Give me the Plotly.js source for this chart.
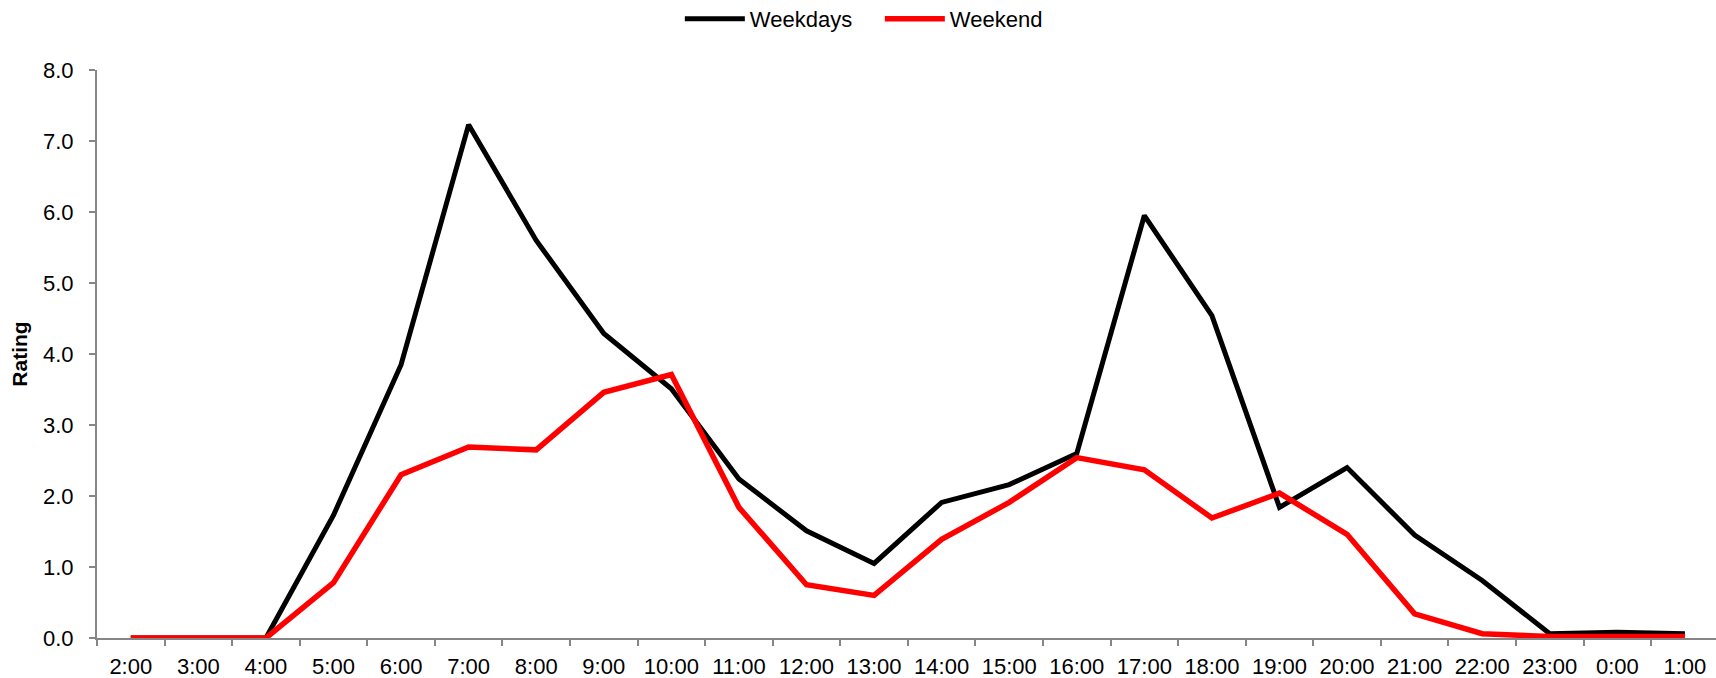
<!DOCTYPE html>
<html>
<head>
<meta charset="utf-8">
<script src="https://cdn.plot.ly/plotly-3.0.1.min.js"></script>
<style>html,body{margin:0;padding:0;background:#fff;}#chart{width:1716px;height:678px;}</style>
</head>
<body>
<div id="chart"></div>
<script>
const hours = ["2:00","3:00","4:00","5:00","6:00","7:00","8:00","9:00","10:00","11:00","12:00","13:00",
  "14:00","15:00","16:00","17:00","18:00","19:00","20:00","21:00","22:00","23:00","0:00","1:00"];
const weekdays = [0,0,0,1.73,3.85,7.23,5.60,4.29,3.51,2.24,1.51,1.05,
  1.91,2.16,2.60,5.95,4.54,1.84,2.40,1.45,0.81,0.06,0.08,0.06];
const weekend = [0,0,0,0.78,2.30,2.69,2.65,3.46,3.71,1.84,0.75,0.60,
  1.39,1.91,2.54,2.37,1.69,2.04,1.46,0.34,0.06,0.02,0.02,0.02];
const yTicks = [0,1,2,3,4,5,6,7,8];

const traces = [
  {x: hours, y: weekdays, name: "Weekdays", type: "scatter", mode: "lines",
   line: {color: "#000000", width: 5}},
  {x: hours, y: weekend, name: "Weekend", type: "scatter", mode: "lines",
   line: {color: "#ff0000", width: 5.5}}
];

const axisColor = "#868686";
const layout = {
  width: 1716, height: 678,
  paper_bgcolor: "#ffffff", plot_bgcolor: "#ffffff",
  font: {family: "Liberation Sans, Arial, sans-serif", size: 22, color: "#000000"},
  margin: {l: 97, r: 0, t: 70, b: 40, pad: 0, autoexpand: false},
  showlegend: true,
  legend: {orientation: "h", x: 0.36, xanchor: "left", y: 1.127, yanchor: "top",
           font: {size: 22, color: "#000000"}, itemwidth: 60, traceorder: "normal",
           entrywidth: 125, entrywidthmode: "pixels"},
  xaxis: {type: "category", categoryorder: "array", categoryarray: hours,
          range: [-0.5, 23.46], showgrid: false, zeroline: false,
          showline: true, linecolor: axisColor, linewidth: 2,
          ticks: "outside", tickson: "boundaries", ticklen: 6, tickwidth: 2, tickcolor: axisColor,
          tickfont: {size: 22, color: "#000000"}, ticklabelstandoff: 8, fixedrange: true},
  yaxis: {range: [0, 8], tickvals: yTicks, tickformat: ".1f", showgrid: false, zeroline: false,
          showline: true, linecolor: axisColor, linewidth: 2,
          ticks: "outside", ticklen: 6, tickwidth: 2, tickcolor: axisColor,
          tickfont: {size: 22, color: "#000000"}, ticklabelstandoff: 11,
          title: {text: "Rating", font: {size: 21, color: "#000000", weight: "bold"}, standoff: 10},
          fixedrange: true}
};

Plotly.newPlot("chart", traces, layout, {staticPlot: true, displayModeBar: false});
</script>
</body>
</html>
